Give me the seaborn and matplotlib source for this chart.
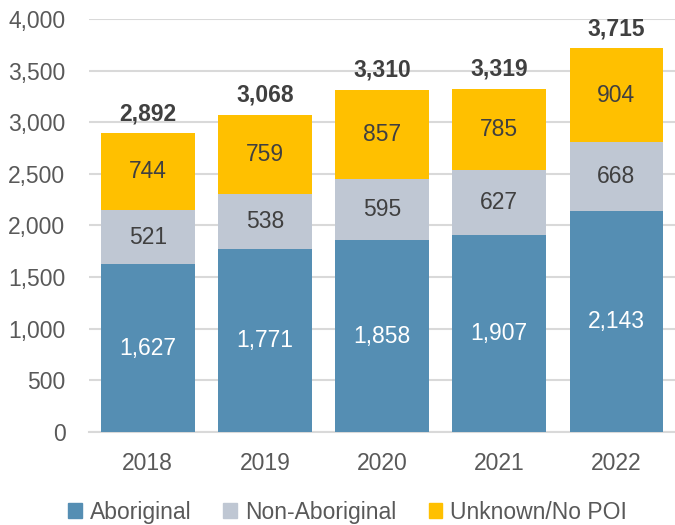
import pandas as pd
import seaborn as sns
import numpy as np
import matplotlib.pyplot as plt
from matplotlib.patches import Patch

years = ['2018', '2019', '2020', '2021', '2022']
aboriginal = [1627, 1771, 1858, 1907, 2143]
non_aboriginal = [521, 538, 595, 627, 668]
unknown = [744, 759, 857, 785, 904]
series_names = ['Aboriginal', 'Non-Aboriginal', 'Unknown/No POI']
colors = ['#558EB3', '#BFC7D3', '#FFC000']
label_colors = ['white', '#404040', '#404040']

sns.set_theme(style='white')
plt.rcParams['font.family'] = ['Liberation Sans', 'DejaVu Sans']
FS = 16.5

df = pd.DataFrame({'year': years, 'Aboriginal': aboriginal,
                   'Non-Aboriginal': non_aboriginal, 'Unknown/No POI': unknown})
cum = df[series_names].cumsum(axis=1)

fig = plt.figure(figsize=(6.75, 5.25), dpi=100)
ax = fig.add_axes([0.132, 0.177, 0.868, 0.787])

# stacked bars: draw cumulative heights from the top layer down
for name, color in reversed(list(zip(series_names, colors))):
    sns.barplot(x=df['year'], y=cum[name], color=color, width=0.8, saturation=1,
                linewidth=0, ax=ax, zorder=3)

# segment labels
for name, lc in zip(series_names, label_colors):
    mids = cum[name] - df[name] / 2
    for xi, (m, v) in enumerate(zip(mids, df[name])):
        ax.text(xi, m, f'{v:,}', ha='center', va='center', fontsize=FS, color=lc, zorder=4)

totals = cum[series_names[-1]]
for xi, tot in enumerate(totals):
    ax.annotate(f'{int(tot):,}', (xi, tot), xytext=(0, 6), textcoords='offset points',
                ha='center', va='bottom', fontsize=FS, fontweight='bold', color='#404040')

ax.set_xlim(-0.5, len(years) - 0.5)
ax.set_ylim(0, 4000)
ax.set_yticks(np.arange(0, 4001, 500))
ax.yaxis.set_major_formatter(plt.FuncFormatter(lambda v, p: f'{int(v):,}'))
ax.tick_params(axis='both', labelsize=FS, colors='#595959', length=0)
ax.tick_params(axis='x', pad=14)
ax.tick_params(axis='y', pad=17)
ax.grid(axis='y', color='#D9D9D9', linewidth=1.5, zorder=0)
ax.set_axisbelow(True)
sns.despine(ax=ax, left=True, top=True, right=True)
ax.spines['bottom'].set_color('#D9D9D9')
ax.spines['bottom'].set_linewidth(1.5)
ax.set_xlabel('')
ax.set_ylabel('')

handles = [Patch(color=c, label=n) for n, c in zip(series_names, colors)]
fig.legend(handles=handles, loc='lower center', bbox_to_anchor=(0.515, -0.037), ncol=3,
           frameon=False, fontsize=FS, handlelength=0.6, handleheight=0.6,
           handletextpad=0.35, columnspacing=1.4, labelcolor='#595959')

fig.savefig('out.png', dpi=100)
